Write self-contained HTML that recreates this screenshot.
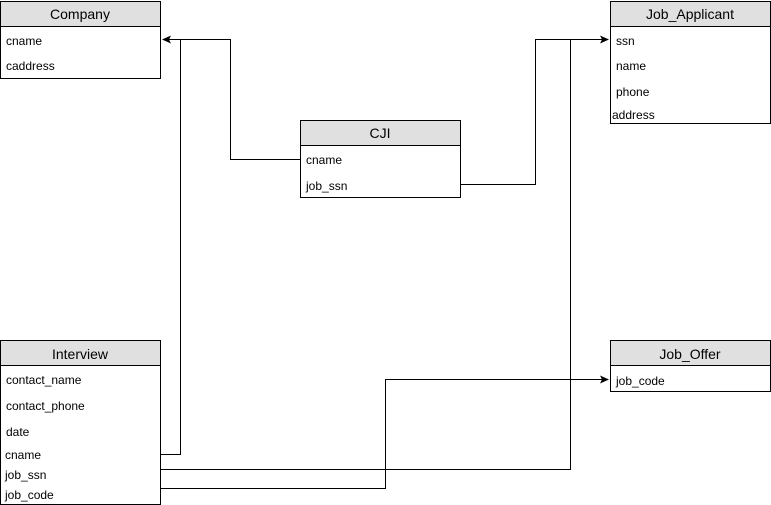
<!DOCTYPE html>
<html><head><meta charset="utf-8"><style>
html,body{margin:0;padding:0;background:#fff;width:771px;height:505px;overflow:hidden}
svg text{font-family:"Liberation Sans",Helvetica,Arial,sans-serif;fill:#000}
</style></head><body>
<svg width="771" height="505" viewBox="0 0 771 505" xmlns="http://www.w3.org/2000/svg">
<defs><marker id="a" markerWidth="10" markerHeight="10" refX="8" refY="4" orient="auto" markerUnits="userSpaceOnUse"><path d="M0,0 L9,4 L0,8 L2,4 Z" fill="#000"/></marker></defs>
<g fill="none" stroke="#000" stroke-width="1">
<rect x="0.5" y="1.5" width="160" height="77" fill="#fff"/>
<rect x="0.5" y="1.5" width="160" height="25" fill="#e0e0e0"/>
<rect x="610.5" y="1.5" width="160" height="122" fill="#fff"/>
<rect x="610.5" y="1.5" width="160" height="25" fill="#e0e0e0"/>
<rect x="300.5" y="120.5" width="160" height="77" fill="#fff"/>
<rect x="300.5" y="120.5" width="160" height="25" fill="#e0e0e0"/>
<rect x="0.5" y="340.5" width="160" height="164" fill="#fff"/>
<rect x="0.5" y="340.5" width="160" height="25" fill="#e0e0e0"/>
<rect x="610.5" y="340.5" width="160" height="51" fill="#fff"/>
<rect x="610.5" y="340.5" width="160" height="25" fill="#e0e0e0"/>
<polyline points="300.5,159.5 230.5,159.5 230.5,39.5 163,39.5" marker-end="url(#a)"/>
<polyline points="460.5,184.5 535.5,184.5 535.5,39.5 608,39.5" marker-end="url(#a)"/>
<polyline points="161,454.5 180.5,454.5 180.5,39.5"/>
<polyline points="161,469.5 570.5,469.5 570.5,39.5"/>
<polyline points="161,488.5 385.5,488.5 385.5,379.5 608,379.5" marker-end="url(#a)"/>
</g>
<g font-size="14" text-anchor="middle">
<text x="80" y="19">Company</text>
<text x="690" y="19">Job_Applicant</text>
<text x="380" y="138">CJI</text>
<text x="80" y="359">Interview</text>
<text x="690" y="359">Job_Offer</text>
</g>
<g font-size="12">
<text x="6" y="45">cname</text>
<text x="6" y="70">caddress</text>
<text x="616" y="45">ssn</text>
<text x="616" y="70">name</text>
<text x="616" y="96">phone</text>
<text x="612" y="119">address</text>
<text x="306" y="164">cname</text>
<text x="306" y="190">job_ssn</text>
<text x="6" y="384">contact_name</text>
<text x="6" y="410">contact_phone</text>
<text x="6" y="436">date</text>
<text x="5" y="459">cname</text>
<text x="5" y="479">job_ssn</text>
<text x="5" y="499">job_code</text>
<text x="616" y="385">job_code</text>
</g>
</svg>
</body></html>
